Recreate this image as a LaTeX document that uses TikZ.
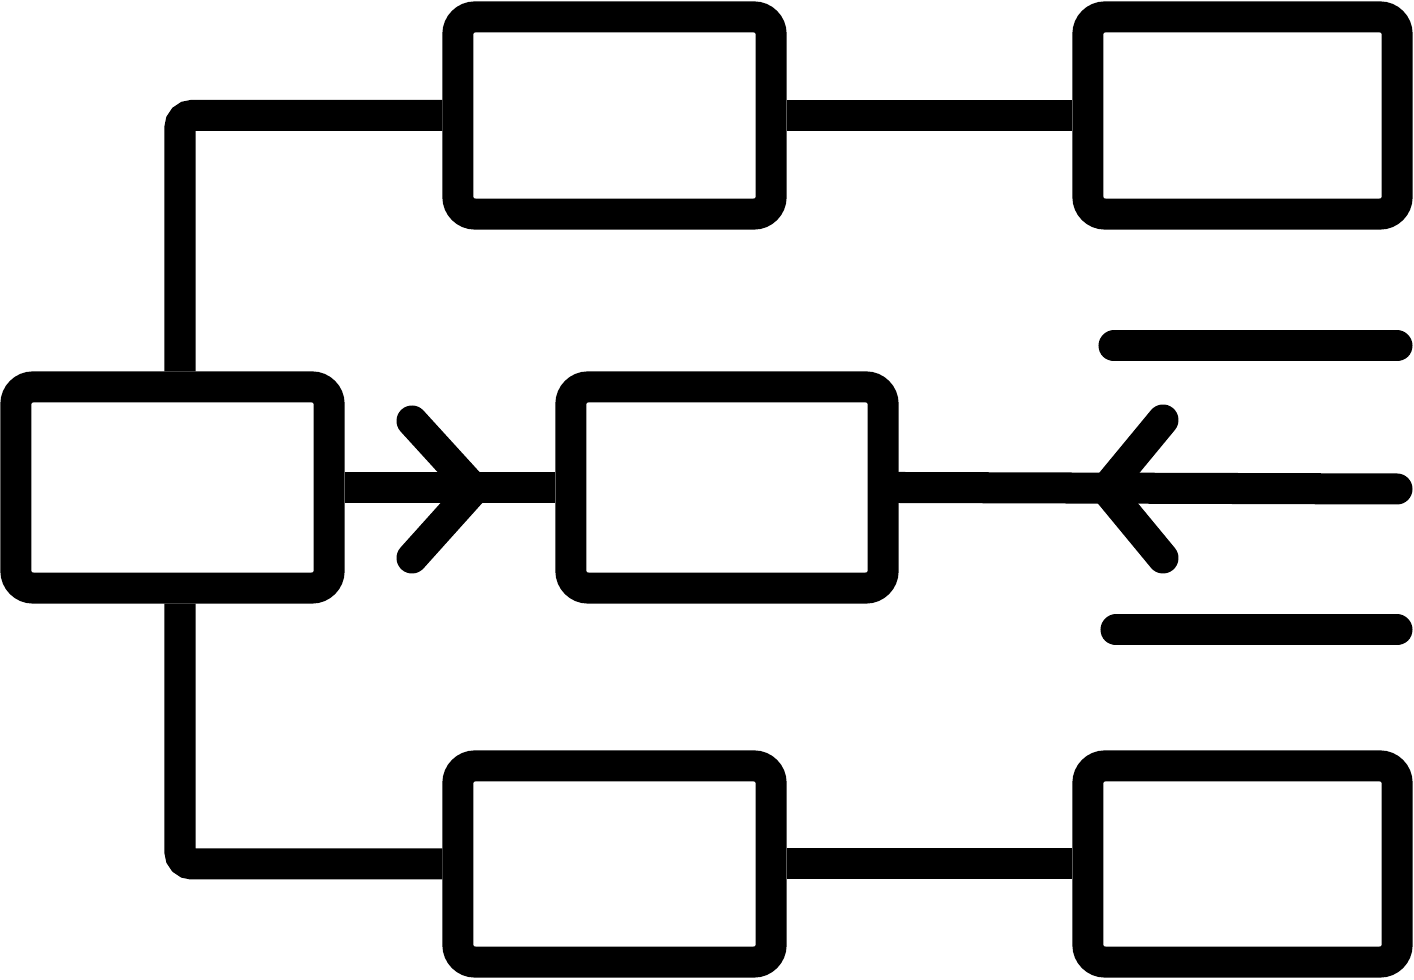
\documentclass[tikz,border=0pt]{standalone}
\begin{document}
\begin{tikzpicture}[x=0.01cm, y=-0.01cm, line width=0.31cm,
		box/.style={draw, rectangle, rounded corners=0.17cm, inner sep=0pt},
		wire/.style={line cap=butt},
		chev/.style={line cap=round, line join=round}]
			\useasboundingbox (0,0) rectangle (1414,980);
			% boxes
			\node[box, minimum width=3.13cm, minimum height=1.97cm] (tl) at (614.5,115.5) {};
			\node[box, minimum width=3.09cm, minimum height=1.97cm] (tr) at (1242.5,115.5) {};
			\node[box, minimum width=3.13cm, minimum height=2.01cm] (ml) at (172.5,487.5) {};
			\node[box, minimum width=3.12cm, minimum height=2.01cm] (mm) at (727,487.5) {};
			\node[box, minimum width=3.13cm, minimum height=1.96cm] (bl) at (614.5,864) {};
			\node[box, minimum width=3.09cm, minimum height=1.96cm] (br) at (1242.5,864) {};
			% connectors
			\draw[wire, rounded corners=0.12cm] ([xshift=0.075cm]ml.north) |- (tl.west);
			\draw[wire, rounded corners=0.12cm] ([xshift=0.075cm]ml.south) |- (bl.west);
			\draw[wire] (tl.east) -- (tr.west);
			\draw[wire] (bl.east) -- (br.west);
			\draw[wire] (ml.east) -- (mm.west);
			\coordinate (rend) at (1397,489);
			\draw[line cap=round] (mm.east) -- (rend);
			% chevrons
			\coordinate (tipa) at (474,489);
			\coordinate (tipb) at (1106,489);
			\draw[chev] (412,421) -- (tipa) -- (412,558);
			\draw[chev] (1163,420) -- (tipb) -- (1163,558);
			% side lines
			\coordinate (sa1) at (1114,346);
			\coordinate (sa2) at (1397,346);
			\coordinate (sb1) at (1116,630);
			\coordinate (sb2) at (1397,630);
			\draw[line cap=round] (sa1) -- (sa2);
			\draw[line cap=round] (sb1) -- (sb2);
		\end{tikzpicture}
\end{document}
